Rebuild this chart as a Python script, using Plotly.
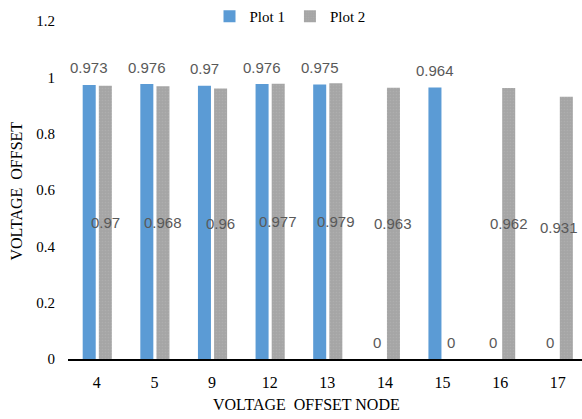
import plotly.graph_objects as go

# Node categories and the two voltage-offset series
nodes = ["4", "5", "9", "12", "13", "14", "15", "16", "17"]
plot1 = [0.973, 0.976, 0.97, 0.976, 0.975, 0, 0.964, 0, 0]
plot2 = [0.97, 0.968, 0.96, 0.977, 0.979, 0.963, 0, 0.962, 0.931]
y_ticks = [0, 0.2, 0.4, 0.6, 0.8, 1, 1.2]

BLUE = "#5B9BD5"
GRAY = "#A5A5A5"
LABEL_COLOR = "#595959"
SERIF = "Liberation Serif, Times New Roman, serif"
SANS = "Liberation Sans, Arial, sans-serif"

BAR_W = 0.226
OFF1 = -0.245
OFF2 = 0.035
X_MAX = 8.42

PLOT_LEFT, PLOT_RIGHT = 68, 582
PLOT_TOP, PLOT_BOTTOM = 20, 359


def px_to_paper_x(px):
    return (px - PLOT_LEFT) / (PLOT_RIGHT - PLOT_LEFT)


def px_to_paper_y(py):
    return (PLOT_BOTTOM - py) / (PLOT_BOTTOM - PLOT_TOP)


def edge_shift(x):
    # keep labels near the right edge inside the plotting area
    return -7 if x > X_MAX - 0.35 else 0


xs = list(range(len(nodes)))

fig = go.Figure()
fig.add_trace(go.Bar(
    name="Plot 1", x=xs, y=plot1, width=BAR_W, offset=OFF1,
    marker=dict(color=BLUE, line=dict(width=0)),
))
fig.add_trace(go.Bar(
    name="Plot 2", x=xs, y=plot2, width=BAR_W, offset=OFF2,
    marker=dict(color=GRAY, line=dict(width=0),
                pattern=dict(shape=".", size=3, solidity=0.25,
                             fgcolor="#B8B8B8", bgcolor=GRAY)),
))

annotations = []
# Plot 1 labels sit above the bar top (or above the baseline for zeros)
for i, v in enumerate(plot1):
    x = i + OFF1 + BAR_W / 2
    annotations.append(dict(
        x=x, y=v, xref="x", yref="y",
        text=f"{v:g}", showarrow=False, yanchor="middle", yshift=17,
        xshift=edge_shift(x),
        font=dict(family=SANS, size=15, color=LABEL_COLOR),
    ))
# Plot 2 labels sit at the middle of the bar; zeros go above the baseline
for i, v in enumerate(plot2):
    x = i + OFF2 + BAR_W / 2
    annotations.append(dict(
        x=x, y=v / 2 if v else 0, xref="x", yref="y",
        text=f"{v:g}", showarrow=False, yanchor="middle",
        yshift=0 if v else 17, xshift=edge_shift(x),
        font=dict(family=SANS, size=15, color=LABEL_COLOR),
    ))

# Axis titles
annotations.append(dict(
    x=px_to_paper_x(306), y=px_to_paper_y(405), xref="paper", yref="paper",
    text="VOLTAGE\u00a0\u00a0OFFSET NODE", showarrow=False,
    xanchor="center", yanchor="middle",
    font=dict(family=SERIF, size=16, color="#000000"),
))
annotations.append(dict(
    x=px_to_paper_x(16), y=px_to_paper_y(191), xref="paper", yref="paper",
    text="VOLTAGE\u00a0\u00a0OFFSET", showarrow=False, textangle=-90,
    xanchor="center", yanchor="middle",
    font=dict(family=SERIF, size=16, color="#000000"),
))

fig.update_layout(
    width=582, height=419,
    margin=dict(l=PLOT_LEFT, r=0, t=PLOT_TOP, b=419 - PLOT_BOTTOM),
    paper_bgcolor="white", plot_bgcolor="white",
    barmode="overlay",
    showlegend=True,
    legend=dict(
        orientation="h", x=px_to_paper_x(290), y=px_to_paper_y(15),
        xanchor="center", yanchor="middle",
        font=dict(family=SERIF, size=15, color="#000000"),
        itemwidth=30, traceorder="normal",
    ),
    annotations=annotations,
    font=dict(family=SERIF, size=15, color="#000000"),
)

fig.update_xaxes(
    range=[-0.5, X_MAX], tickmode="array", tickvals=xs, ticktext=nodes,
    showline=True, linecolor="#000000", linewidth=1.5,
    showgrid=False, zeroline=False, ticks="", ticklabelstandoff=8,
    tickfont=dict(family=SERIF, size=16, color="#000000"),
)
fig.update_yaxes(
    range=[0, 1.2], tickmode="array", tickvals=y_ticks,
    ticktext=[f"{t:g}" for t in y_ticks],
    showline=False, showgrid=False, zeroline=False, ticks="",
    ticklabelstandoff=12,
    tickfont=dict(family=SERIF, size=15, color="#000000"),
)

fig.write_html("out.html")
